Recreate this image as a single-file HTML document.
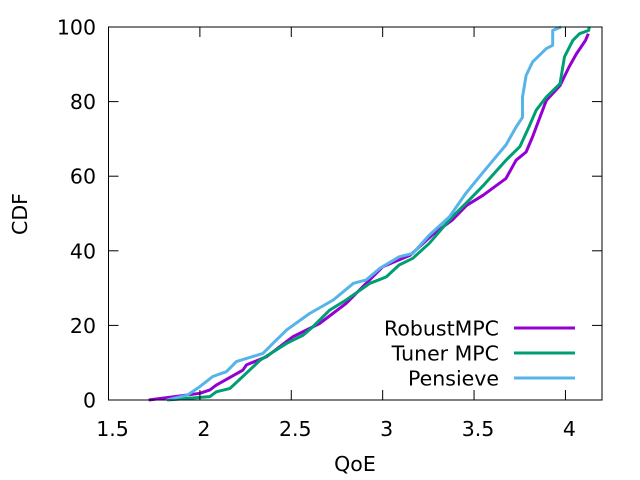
<!DOCTYPE html>
<html><head><meta charset="utf-8"><style>
html,body{margin:0;padding:0;background:#fff;}
svg{display:block;font-family:"DejaVu Sans","Liberation Sans",sans-serif;}
</style></head><body>
<svg id="chart" width="640" height="480"></svg>
<script>
const xTicks=[1.5,2,2.5,3,3.5,4];
const xTickLabels=["1.5","2","2.5","3","3.5","4"];
const yTicks=[0,20,40,60,80,100];
const yTickLabels=["0","20","40","60","80","100"];
const seriesNames=["RobustMPC","Tuner MPC","Pensieve"];
const seriesColors=["#9400d3","#009e73","#56b4e9"];
const robustX=[1.72,2.0,2.055,2.09,2.235,2.255,2.365,2.51,2.655,2.80,2.91,3.0,3.15,3.27,3.38,3.46,3.55,3.675,3.73,3.785,3.82,3.86,3.895,3.97,4.02,4.06,4.11,4.125];
const robustY=[0,1.8,2.7,4,8,9.4,11.6,17,20.5,25.9,31.3,35.7,38.8,44.2,48.2,52.2,54.9,59.4,64.3,66.5,70.5,75.8,80.3,84.3,89.3,92.8,96.4,98.2];
const tunerX=[1.82,2.055,2.09,2.165,2.235,2.33,2.475,2.565,2.62,2.71,2.80,2.93,3.02,3.09,3.165,3.255,3.38,3.455,3.545,3.675,3.75,3.80,3.84,3.895,3.97,3.995,4.04,4.077,4.127,4.13];
const tunerY=[0,0.9,2.2,3.1,6.3,10.7,15.2,17.4,19.7,24.1,26.8,31.3,33,36.2,38,42,49.1,52.7,57.2,64.3,67.9,73.2,77.7,81.2,84.8,92,96.4,98.2,99.1,100];
const pensX=[1.82,1.93,2.0,2.07,2.145,2.20,2.345,2.40,2.475,2.60,2.73,2.84,2.91,2.985,3.09,3.165,3.255,3.365,3.455,3.545,3.62,3.675,3.73,3.765,3.765,3.785,3.82,3.895,3.93,3.93,3.977];
const pensY=[0,1.3,3.6,6.3,7.6,10.3,12.5,15.2,18.8,23.2,26.8,31.3,32.2,35.3,38.4,39.3,44.2,49.1,55.4,60.8,65.2,68.4,73.2,75.8,81.2,87,90.6,94.2,95.1,99.1,100];
const seriesX=[robustX,tunerX,pensX];
const seriesY=[robustY,tunerY,pensY];

const L=108.5,R=602,T=27,B=400,xmin=1.5,xmax=4.2,ymin=0,ymax=100;
const sx=v=>L+(v-xmin)/(xmax-xmin)*(R-L);
const sy=v=>B-(v-ymin)/(ymax-ymin)*(B-T);
const NS="http://www.w3.org/2000/svg";
const svg=document.getElementById('chart');
function mk(tag,attrs,parent){const e=document.createElementNS(NS,tag);for(const k in attrs)e.setAttribute(k,attrs[k]);(parent||svg).appendChild(e);return e;}

const lines=mk('g',{});


seriesX.forEach((xs,i)=>{
  const pts=xs.map((x,j)=>sx(x).toFixed(1)+','+sy(seriesY[i][j]).toFixed(1)).join(' ');
  const p=mk('polyline',{points:pts,fill:'none',stroke:seriesColors[i],'stroke-width':3,'stroke-linejoin':'round'},lines);
  
  
});

const frame=mk('rect',{x:L,y:T,width:R-L,height:B-T,fill:'none',stroke:'#000','stroke-width':1});



xTicks.forEach((v,i)=>{
  const x=sx(v);
  mk('line',{x1:x,y1:B,x2:x,y2:B-10,stroke:'#000'});
  mk('line',{x1:x,y1:T,x2:x,y2:T+10,stroke:'#000'});
  const t=mk('text',{x:x+4,y:436,'text-anchor':'middle','font-size':20.5,fill:'#000'});
  t.textContent=xTickLabels[i];
  
  
});
yTicks.forEach((v,i)=>{
  const y=sy(v);
  mk('line',{x1:L,y1:y,x2:L+10,y2:y,stroke:'#000'});
  mk('line',{x1:R,y1:y,x2:R-10,y2:y,stroke:'#000'});
  const t=mk('text',{x:96,y:y+7.5,'text-anchor':'end','font-size':20.5,fill:'#000'});
  t.textContent=yTickLabels[i];
  
  
});

const xt=mk('text',{x:355,y:471,'text-anchor':'middle','font-size':20.5,fill:'#000'});
xt.textContent='QoE';


const yt=mk('text',{x:0,y:0,'text-anchor':'middle','font-size':20.5,fill:'#000',transform:'translate(27,214) rotate(-90)'});
yt.textContent='CDF';



const leg=mk('g',{});


seriesNames.forEach((n,i)=>{
  const y=328+i*25;
  const t=mk('text',{x:499,y:y+7.5,'text-anchor':'end','font-size':20.5,fill:'#000'},leg);
  t.textContent=n;
  
  
  const l=mk('line',{x1:514,y1:y,x2:575,y2:y,stroke:seriesColors[i],'stroke-width':3},leg);
  
  
});
</script>
</body></html>
